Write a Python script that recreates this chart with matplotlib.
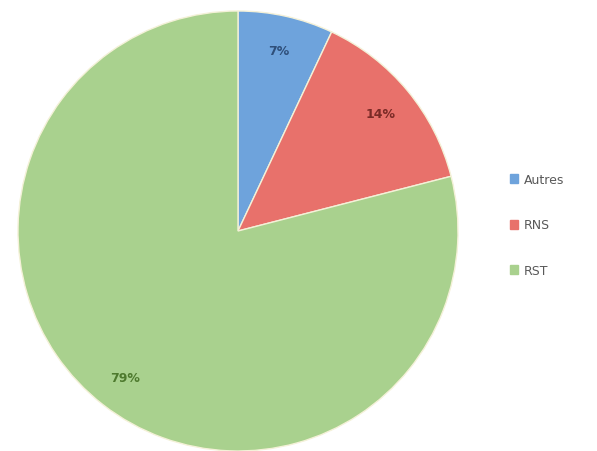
import numpy as np
import matplotlib.pyplot as plt

# data
labels = ['Autres', 'RNS', 'RST']
values = [7, 14, 79]
colors = ['#6ea3dc', '#e8716b', '#a9d18e']
text_colors = ['#2f4f7a', '#7a2a26', '#4e7a2e']

fig = plt.figure(figsize=(5.97, 4.52), dpi=100)
ax = fig.add_axes([18 / 597, 0.0, 440 / 597, 440 / 452])

wedges, texts, autotexts = ax.pie(
    values, colors=colors, startangle=90, counterclock=False,
    autopct='%1.0f%%', pctdistance=0.84,
    wedgeprops=dict(edgecolor='#f4f1d8', linewidth=1.0),
    textprops=dict(fontsize=9, fontweight='bold'))
for t, c in zip(autotexts, text_colors):
    t.set_color(c)
ax.set_xlim(-1, 1)
ax.set_ylim(-1, 1)
ax.set_aspect('equal')

handles = [plt.Rectangle((0, 0), 1, 1, color=c) for c in colors]
fig.legend(handles, labels, loc='center left', bbox_to_anchor=(0.835, 0.5),
           frameon=False, fontsize=9, labelcolor='#595959',
           handlelength=0.7, handleheight=0.7, handletextpad=0.4,
           labelspacing=2.6)

plt.savefig('out.png', dpi=100)
plt.close()
